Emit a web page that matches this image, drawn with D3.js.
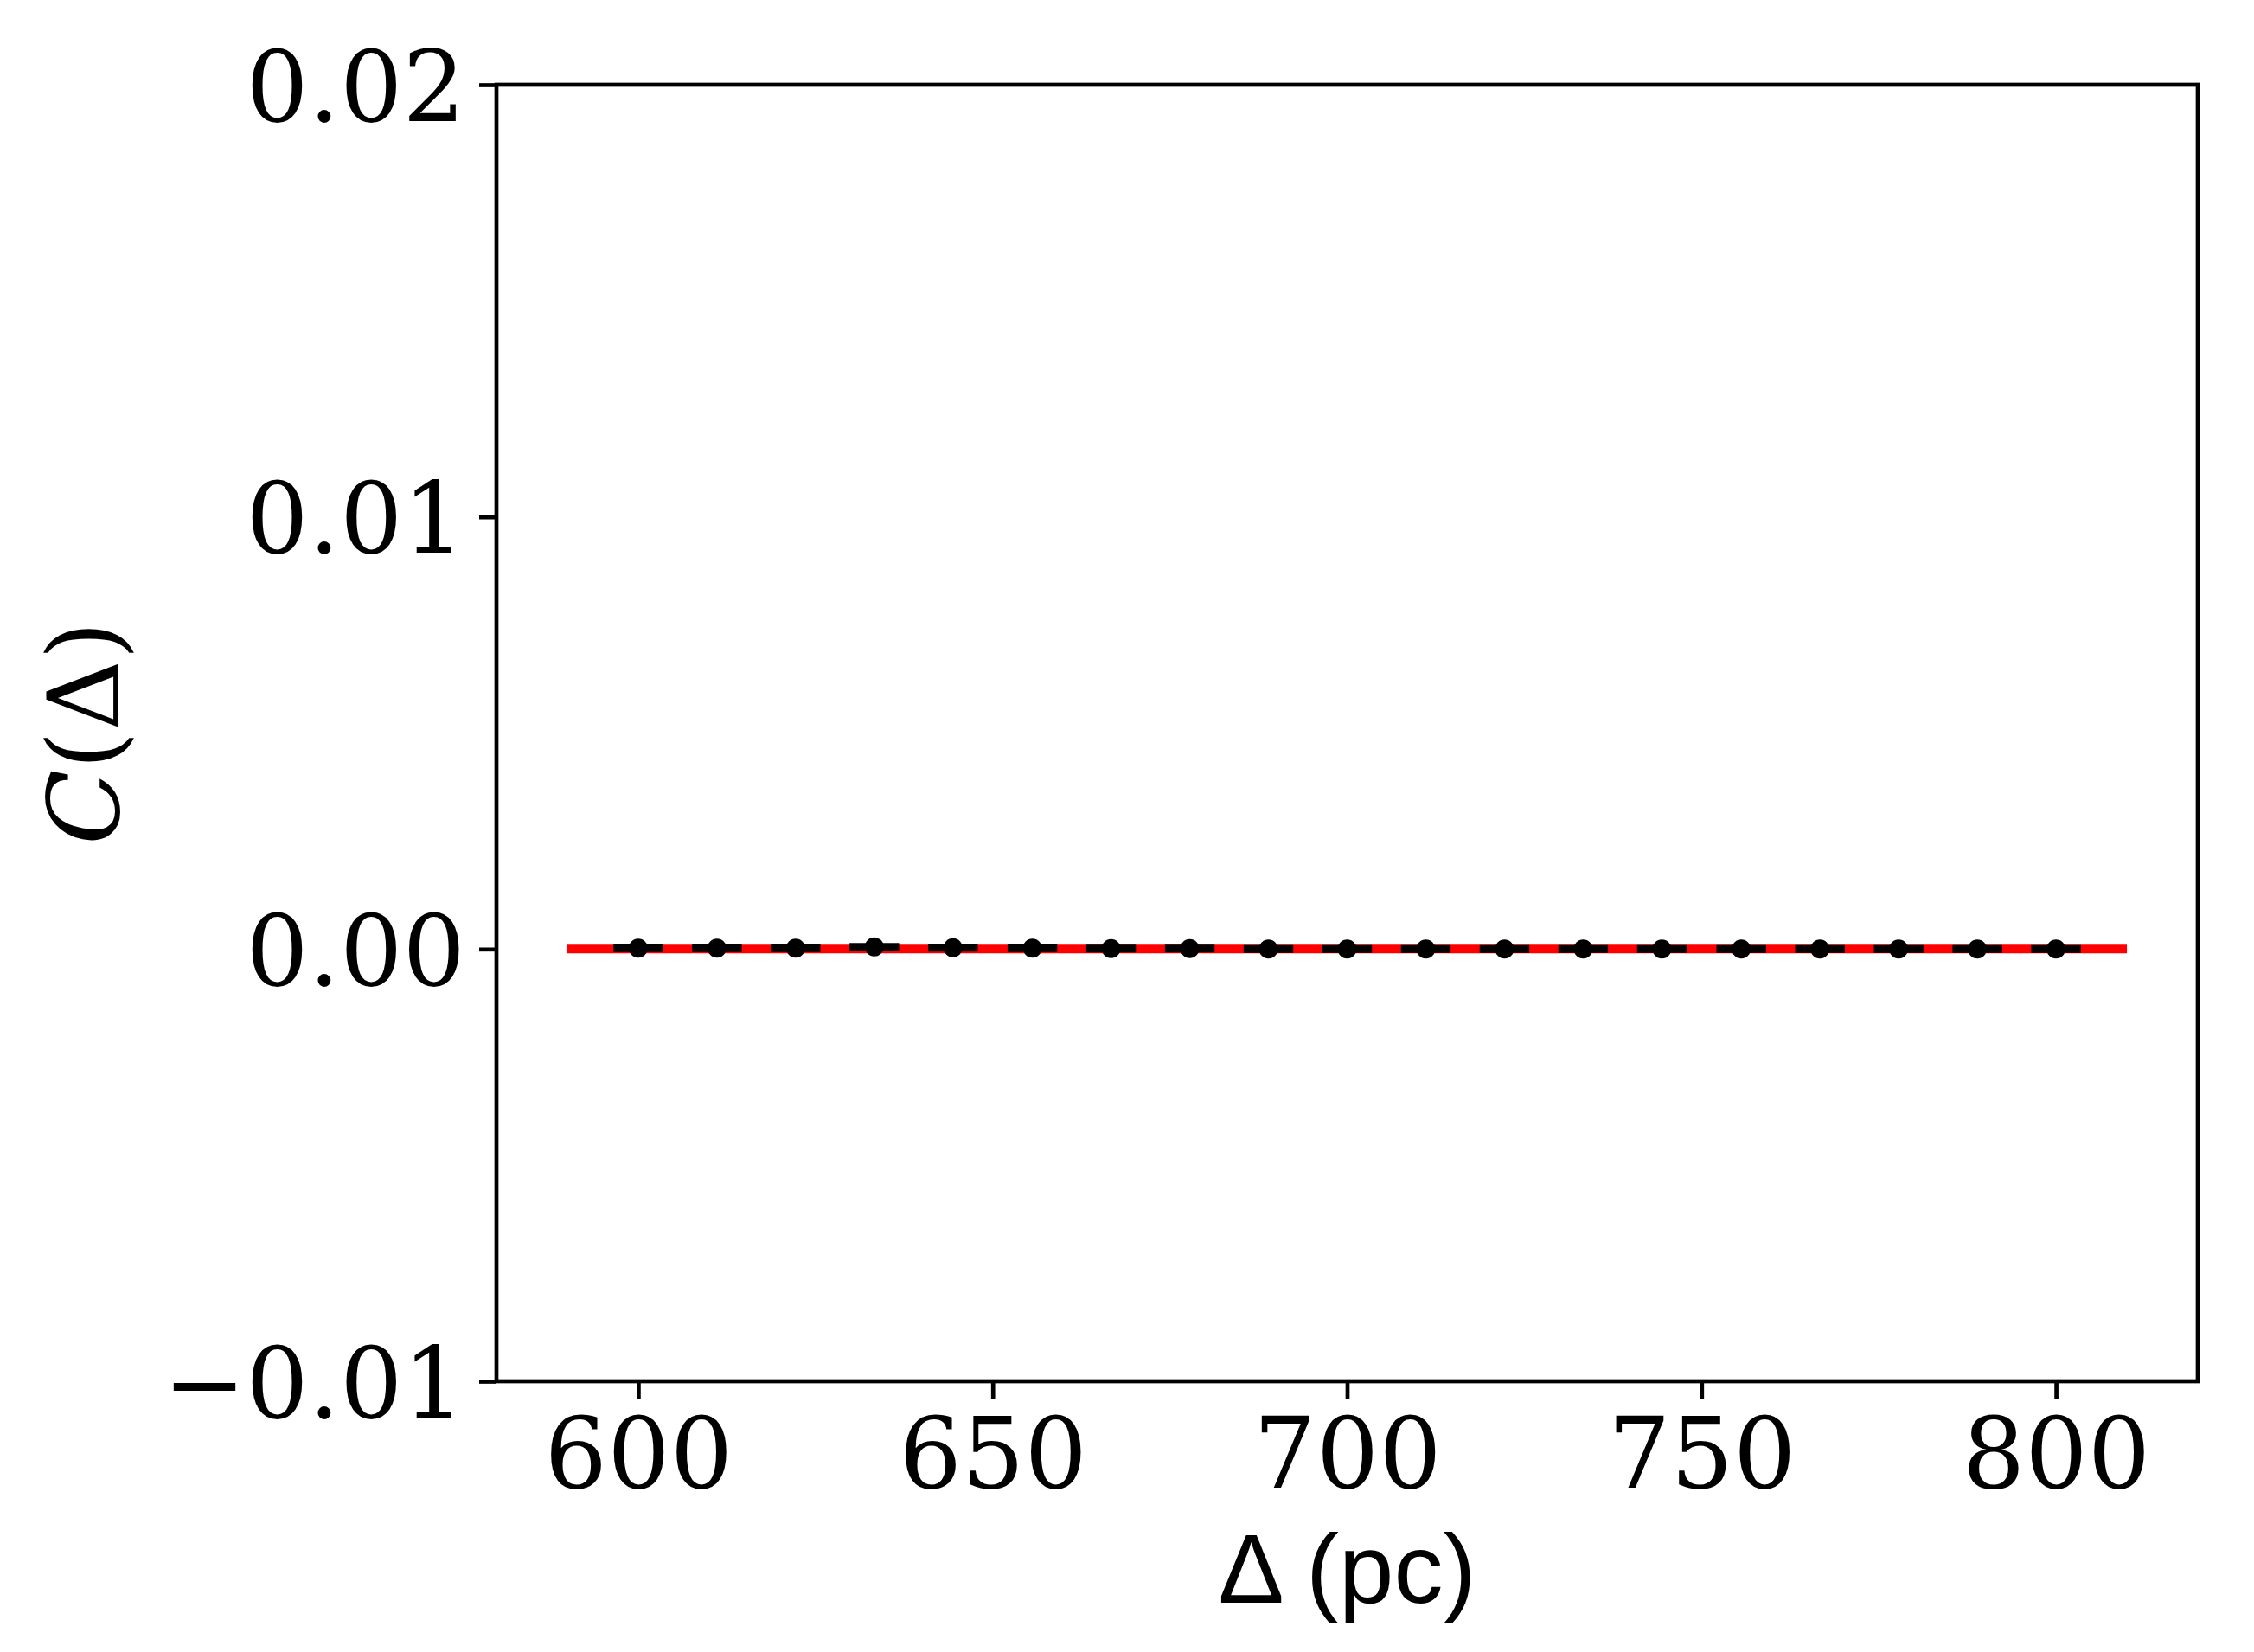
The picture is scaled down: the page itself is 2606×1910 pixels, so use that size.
<!DOCTYPE html>
<html>
<head>
<meta charset="utf-8">
<script src="https://cdn.jsdelivr.net/npm/d3@7"></script>
<style>
  html, body { margin: 0; padding: 0; background: #fff; }
  svg { display: block; }
</style>
</head>
<body>
<script>
// ---- data ----
const deltaValues = [600, 611.1, 622.2, 633.3, 644.4, 655.6, 666.7, 677.8, 688.9, 700,
                     711.1, 722.2, 733.3, 744.4, 755.6, 766.7, 777.8, 788.9, 800];
const corrValues = [0.00002, 0.00002, 0.00002, 0.00005, 0.00003, 0.00002, 0.00001, 0.00001, 0.00000, 0.00000,
                    0.00000, 0.00000, 0.00000, 0.00000, 0.00000, 0.00000, 0.00000, 0.00000, 0.00000];
const xErr = 3.5;
const modelX = [590, 810];
const modelY = [0, 0];
const xTicks = [600, 650, 700, 750, 800];
const yTicks = [-0.01, 0.00, 0.01, 0.02];
const xDomain = [580, 820];
const yDomain = [-0.01, 0.02];

// ---- layout ----
const W = 2606, H = 1910;
const L = 574, R = 2541, T = 98, B = 1597;

const svg = d3.select("body").append("svg").attr("width", W).attr("height", H);

const x = d3.scaleLinear().domain(xDomain).range([L, R]);
const y = d3.scaleLinear().domain(yDomain).range([B, T]);

// model line (red)
const line = d3.line().x(d => x(d[0])).y(d => y(d[1]));
svg.append("path")
  .datum(d3.zip(modelX, modelY))
  .attr("d", line)
  .attr("fill", "none")
  .attr("stroke", "#ff0000")
  .attr("stroke-width", 10);

// error bars (black)
const pts = d3.zip(deltaValues, corrValues);
svg.append("g").selectAll("line").data(pts).join("line")
  .attr("x1", d => x(d[0] - xErr))
  .attr("x2", d => x(d[0] + xErr))
  .attr("y1", d => y(d[1]))
  .attr("y2", d => y(d[1]))
  .attr("stroke", "#000")
  .attr("stroke-width", 9);

svg.append("g").selectAll("circle").data(pts).join("circle")
  .attr("cx", d => x(d[0]))
  .attr("cy", d => y(d[1]))
  .attr("r", 11)
  .attr("fill", "#000");

// axes
const fmtY = v => (v < 0 ? "\u2212" : "") + Math.abs(v).toFixed(2);
const xAxis = d3.axisBottom(x).tickValues(xTicks).tickFormat(d3.format("d")).tickSize(20).tickPadding(22);
const yAxis = d3.axisLeft(y).tickValues(yTicks).tickFormat(fmtY).tickSize(20).tickPadding(16);

const gx = svg.append("g").attr("transform", `translate(0,${B})`).call(xAxis);
const gy = svg.append("g").attr("transform", `translate(${L},0)`).call(yAxis);
[gx, gy].forEach(g => {
  g.select(".domain").remove();
  g.selectAll(".tick line").attr("stroke", "#000").attr("stroke-width", 4.7);
  g.selectAll(".tick text")
    .attr("fill", "#000")
    .style("font-family", "'DejaVu Serif'")
    .style("font-size", "114px");
});
gy.selectAll(".tick text").attr("dy", "0.36em");

// frame
svg.append("rect")
  .attr("x", L).attr("y", T).attr("width", R - L).attr("height", B - T)
  .attr("fill", "none").attr("stroke", "#000").attr("stroke-width", 4.7);

// x label
svg.append("text")
  .attr("x", (L + R) / 2).attr("y", 1853)
  .attr("text-anchor", "middle")
  .style("font-family", "'Liberation Sans', Arial, sans-serif")
  .style("font-size", "114px")
  .text("\u0394 (pc)");

// y label
const yl = svg.append("text")
  .attr("transform", `translate(137,${(T + B) / 2}) rotate(-90)`)
  .attr("text-anchor", "middle")
  .style("font-family", "'DejaVu Serif'")
  .style("font-size", "114px");
yl.append("tspan").style("font-style", "italic").text("C");
yl.append("tspan").text("(\u0394)");
</script>
</body>
</html>
